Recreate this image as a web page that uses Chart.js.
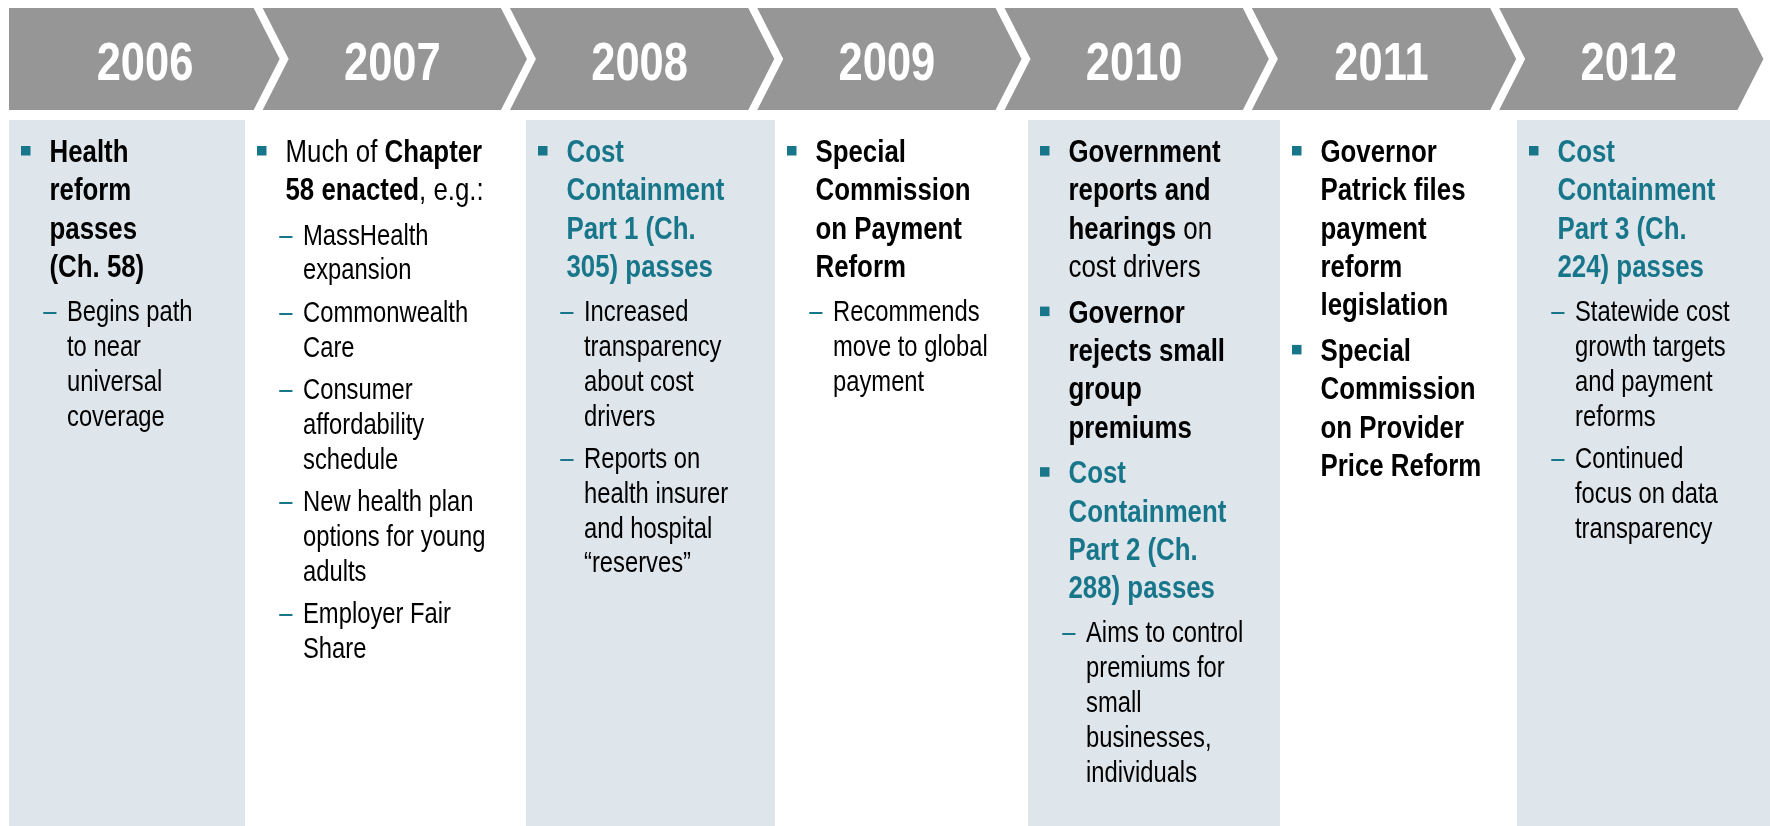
<!DOCTYPE html>
<html>
<head>
<meta charset="utf-8">
<script src="https://cdn.jsdelivr.net/npm/chart.js@4.4.1/dist/chart.umd.min.js"></script>
<style>
  html, body { margin: 0; padding: 0; background: #ffffff; overflow: hidden; }
  #wrap { position: relative; width: 1770px; height: 826px; }
</style>
</head>
<body>
<div id="wrap"><canvas id="chart"></canvas></div>
<script>
// ---------------- DATA ----------------
const years = [2006, 2007, 2008, 2009, 2010, 2011, 2012];

// level 1 = main bullet (bold by default, [ ] = regular), level 2 = sub bullet; key = highlighted (teal)
const items2006 = [
  { level: 1, key: false, lines: ["Health", "reform", "passes", "(Ch. 58)"] },
  { level: 2, lines: ["Begins path", "to near", "universal", "coverage"] }
];
const items2007 = [
  { level: 1, key: false, lines: ["[Much of ]Chapter", "58 enacted[, e.g.:]"] },
  { level: 2, lines: ["MassHealth", "expansion"] },
  { level: 2, lines: ["Commonwealth", "Care"] },
  { level: 2, lines: ["Consumer", "affordability", "schedule"] },
  { level: 2, lines: ["New health plan", "options for young", "adults"] },
  { level: 2, lines: ["Employer Fair", "Share"] }
];
const items2008 = [
  { level: 1, key: true, lines: ["Cost", "Containment", "Part 1 (Ch.", "305) passes"] },
  { level: 2, lines: ["Increased", "transparency", "about cost", "drivers"] },
  { level: 2, lines: ["Reports on", "health insurer", "and hospital", "\u201Creserves\u201D"] }
];
const items2009 = [
  { level: 1, key: false, lines: ["Special", "Commission", "on Payment", "Reform"] },
  { level: 2, lines: ["Recommends", "move to global", "payment"] }
];
const items2010 = [
  { level: 1, key: false, lines: ["Government", "reports and", "hearings[ on]", "[cost drivers]"] },
  { level: 1, key: false, lines: ["Governor", "rejects small", "group", "premiums"] },
  { level: 1, key: true, lines: ["Cost", "Containment", "Part 2 (Ch.", "288) passes"] },
  { level: 2, lines: ["Aims to control", "premiums for", "small", "businesses,", "individuals"] }
];
const items2011 = [
  { level: 1, key: false, lines: ["Governor", "Patrick files", "payment", "reform", "legislation"] },
  { level: 1, key: false, lines: ["Special", "Commission", "on Provider", "Price Reform"] }
];
const items2012 = [
  { level: 1, key: true, lines: ["Cost", "Containment", "Part 3 (Ch.", "224) passes"] },
  { level: 2, lines: ["Statewide cost", "growth targets", "and payment", "reforms"] },
  { level: 2, lines: ["Continued", "focus on data", "transparency"] }
];
const columnItems = [items2006, items2007, items2008, items2009, items2010, items2011, items2012];

// ---------------- LAYOUT / STYLE ----------------
const COLUMN_EDGES = [9, 245, 526, 775, 1028, 1280, 1517, 1770]; // slide units (px scale)
const STEP = 247.3;          // chevron pitch in pixels per year
const FIRST_CENTER = 139;    // pixel of first year centre
const COLORS = {
  chevron: '#969696',
  panel: '#DEE5EB',
  teal: '#18768A',
  text: '#000000',
  year: '#FFFFFF'
};

const NARROW = (() => {
  const c = document.createElement('canvas').getContext('2d');
  const s = 'abcdefghijklmnopqrstuvwxyzABCDEFGHIJ0123456789';
  c.font = '40px monospace';
  const a = c.measureText(s).width;
  c.font = "40px 'Liberation Sans Narrow', monospace";
  const b = c.measureText(s).width;
  return Math.abs(a - b) > 1;
})();
const FAMILY = NARROW ? "'Liberation Sans Narrow', 'Arial Narrow', sans-serif" : "'Liberation Sans', Arial, sans-serif";
const SX = NARROW ? 1 : 0.82;

const FONT_YEAR = `bold 53px ${FAMILY}`;
const FONT_MAIN_B = `bold 31.5px ${FAMILY}`;
const FONT_MAIN_R = `31.5px ${FAMILY}`;
const FONT_SUB = `29px ${FAMILY}`;

const FIRST_BASE = 162;
const LINE_MAIN = 38.3, LINE_SUB = 34.8;
const GAP = { '1-1': 45.7, '1-2': 44.2, '2-2': 42.5, '2-1': 45 };

function drawRun(ctx, text, x0, base, font, color, align) {
  ctx.font = font;
  ctx.fillStyle = color;
  ctx.textAlign = align || 'left';
  ctx.textBaseline = 'alphabetic';
  ctx.save();
  ctx.translate(x0, base);
  ctx.scale(SX, 1);
  ctx.fillText(text, 0, 0);
  ctx.restore();
  return ctx.measureText(text).width * SX;
}

function parseMain(line) {
  // returns [{text, bold}]
  const out = [];
  const re = /\[([^\]]*)\]|([^\[]+)/g;
  let m;
  while ((m = re.exec(line)) !== null) {
    if (m[1] !== undefined) out.push({ text: m[1], bold: false });
    else out.push({ text: m[2], bold: true });
  }
  return out;
}

const timelinePlugin = {
  id: 'timeline',
  beforeDatasetsDraw(chart) {
    const ctx = chart.ctx;
    const xs = chart.scales.x, ps = chart.scales.px, ys = chart.scales.y;

    // background panels (alternate columns shaded)
    ctx.save();
    for (let i = 0; i < COLUMN_EDGES.length - 1; i++) {
      if (i % 2 !== 0) continue;
      const l = ps.getPixelForValue(COLUMN_EDGES[i]);
      const r = ps.getPixelForValue(COLUMN_EDGES[i + 1]);
      const t = ys.getPixelForValue(120), b = ys.getPixelForValue(826);
      ctx.fillStyle = COLORS.panel;
      ctx.fillRect(l, t, r - l, b - t);
    }

    // chevrons with year labels
    const top = ys.getPixelForValue(8), bot = ys.getPixelForValue(110), mid = ys.getPixelForValue(59);
    years.forEach((yr, k) => {
      const c = xs.getPixelForValue(yr);
      const left = k === 0 ? ps.getPixelForValue(9) : xs.getPixelForValue(yr - 0.5);
      const right = xs.getPixelForValue(yr + 0.5) - 9;
      const tip = right + 26;
      ctx.beginPath();
      ctx.moveTo(left, top);
      ctx.lineTo(right, top);
      ctx.lineTo(tip, mid);
      ctx.lineTo(right, bot);
      ctx.lineTo(left, bot);
      if (k > 0) ctx.lineTo(left + 26, mid);
      ctx.closePath();
      ctx.fillStyle = COLORS.chevron;
      ctx.fill();
      drawRun(ctx, String(yr), c + 6, 80, FONT_YEAR, COLORS.year, 'center');
    });

    // column texts
    columnItems.forEach((items, k) => {
      const bx = ps.getPixelForValue(COLUMN_EDGES[k]) + 12;
      let base = null, prevLevel = null;
      items.forEach(item => {
        item.lines.forEach((line, li) => {
          if (base === null) base = FIRST_BASE;
          else if (li === 0) base += GAP[prevLevel + '-' + item.level];
          else base += (item.level === 1 ? LINE_MAIN : LINE_SUB);
          if (item.level === 1) {
            if (li === 0) {
              ctx.fillStyle = COLORS.teal;
              ctx.fillRect(bx, base - 16, 9.5, 9.5);
            }
            let cx = bx + 28.5;
            const color = item.key ? COLORS.teal : COLORS.text;
            parseMain(line).forEach(seg => {
              cx += drawRun(ctx, seg.text, cx, base, seg.bold ? FONT_MAIN_B : FONT_MAIN_R, color);
            });
          } else {
            if (li === 0) drawRun(ctx, '\u2013', bx + 22.3, base, FONT_SUB, COLORS.teal);
            drawRun(ctx, line, bx + 46, base, FONT_SUB, COLORS.text);
          }
        });
        prevLevel = item.level;
      });
    });
    ctx.restore();
  }
};

const xMin = years[0] - FIRST_CENTER / STEP;
const xMax = xMin + 1770 / STEP;

new Chart(document.getElementById('chart'), {
  type: 'scatter',
  data: { datasets: [{ label: 'Years', data: [], pointRadius: 0 }] },
  options: {
    responsive: true,
    maintainAspectRatio: false,
    animation: false,
    devicePixelRatio: 1,
    layout: { padding: 0 },
    plugins: { legend: { display: false }, tooltip: { enabled: false }, title: { display: false } },
    scales: {
      x: { type: 'linear', min: xMin, max: xMax, display: false, bounds: 'data' },
      px: { type: 'linear', axis: 'x', position: 'bottom', min: 0, max: 1770, display: false, bounds: 'data' },
      y: { type: 'linear', min: 0, max: 826, reverse: true, display: false, bounds: 'data' }
    }
  },
  plugins: [timelinePlugin]
});
</script>
</body>
</html>
